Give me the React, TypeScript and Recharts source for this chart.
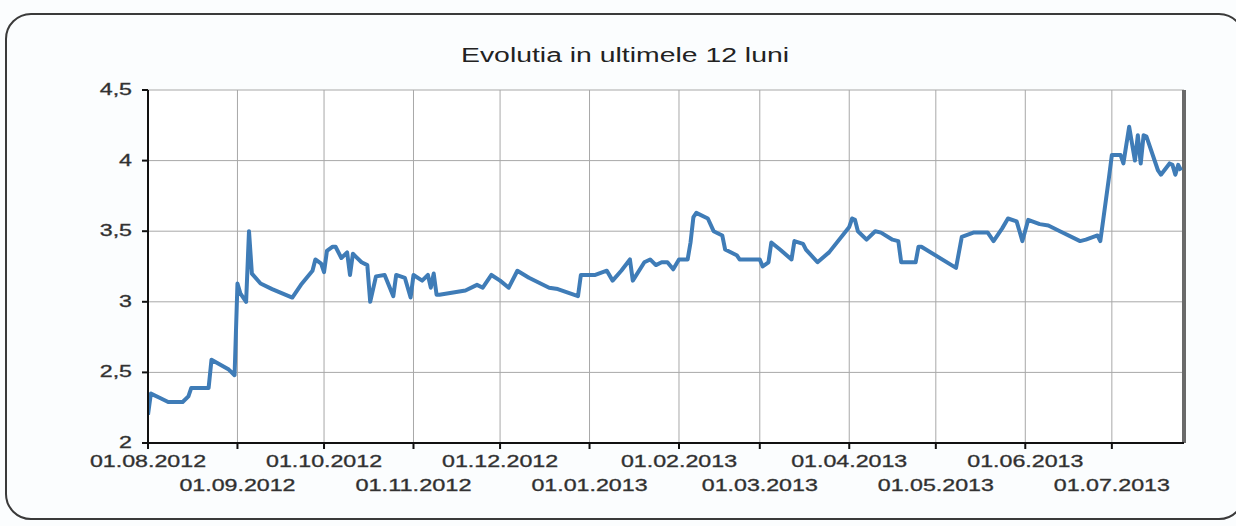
import React from "react";
import { LineChart, Line, XAxis, YAxis, CartesianGrid, ReferenceLine } from "recharts";

const title = "Evolutia in ultimele 12 luni";

const dates: string[] = [
  "01.08.2012","02.08.2012","05.08.2012","08.08.2012","13.08.2012","15.08.2012","16.08.2012","22.08.2012","23.08.2012","29.08.2012","31.08.2012",
  "01.09.2012","02.09.2012","04.09.2012","05.09.2012","06.09.2012","09.09.2012","13.09.2012","20.09.2012","23.09.2012","27.09.2012","28.09.2012","30.09.2012",
  "01.10.2012","02.10.2012","04.10.2012","05.10.2012","07.10.2012","09.10.2012","10.10.2012","11.10.2012","12.10.2012","14.10.2012","16.10.2012","17.10.2012","19.10.2012","22.10.2012","25.10.2012","26.10.2012","29.10.2012","31.10.2012",
  "01.11.2012","04.11.2012","06.11.2012","07.11.2012","08.11.2012","09.11.2012","10.11.2012","19.11.2012","23.11.2012","25.11.2012","28.11.2012",
  "01.12.2012","04.12.2012","07.12.2012","11.12.2012","18.12.2012","21.12.2012","28.12.2012","29.12.2012",
  "03.01.2013","07.01.2013","09.01.2013","12.01.2013","15.01.2013","16.01.2013","20.01.2013","22.01.2013","24.01.2013","26.01.2013","28.01.2013","30.01.2013",
  "01.02.2013","04.02.2013","05.02.2013","06.02.2013","07.02.2013","11.02.2013","13.02.2013","16.02.2013","17.02.2013","21.02.2013","22.02.2013",
  "01.03.2013","02.03.2013","04.03.2013","05.03.2013","08.03.2013","12.03.2013","13.03.2013","16.03.2013","17.03.2013","21.03.2013","25.03.2013",
  "01.04.2013","02.04.2013","03.04.2013","04.04.2013","07.04.2013","10.04.2013","12.04.2013","16.04.2013","18.04.2013","19.04.2013","24.04.2013","25.04.2013","26.04.2013",
  "08.05.2013","10.05.2013","14.05.2013","19.05.2013","21.05.2013","24.05.2013","26.05.2013","29.05.2013","31.05.2013",
  "02.06.2013","06.06.2013","09.06.2013","13.06.2013","20.06.2013","22.06.2013","26.06.2013","27.06.2013","28.06.2013","30.06.2013",
  "01.07.2013","04.07.2013","05.07.2013","07.07.2013","09.07.2013","10.07.2013","11.07.2013","12.07.2013","13.07.2013","17.07.2013","18.07.2013","21.07.2013","22.07.2013","23.07.2013","24.07.2013","25.07.2013"
];

const values: number[] = [
  2.20,2.35,2.32,2.29,2.29,2.33,2.39,2.39,2.59,2.52,2.48,
  3.13,3.06,3.00,3.50,3.20,3.13,3.09,3.03,3.12,3.22,3.30,3.27,
  3.21,3.36,3.39,3.39,3.31,3.35,3.19,3.34,3.32,3.28,3.26,3.00,3.18,3.19,3.04,3.19,3.17,3.03,
  3.19,3.15,3.19,3.10,3.20,3.05,3.05,3.08,3.12,3.10,3.19,
  3.15,3.10,3.22,3.17,3.10,3.09,3.04,3.19,
  3.19,3.22,3.15,3.22,3.30,3.15,3.28,3.30,3.26,3.28,3.28,3.23,
  3.30,3.30,3.42,3.60,3.63,3.59,3.50,3.47,3.37,3.33,3.30,
  3.30,3.25,3.28,3.42,3.37,3.30,3.43,3.41,3.37,3.28,3.35,
  3.53,3.59,3.58,3.50,3.44,3.50,3.49,3.44,3.43,3.28,3.28,3.39,3.39,
  3.24,3.46,3.49,3.49,3.43,3.52,3.59,3.57,3.43,
  3.58,3.55,3.54,3.50,3.43,3.44,3.47,3.43,3.58,3.88,
  4.04,4.04,3.98,4.24,4.00,4.18,3.98,4.18,4.17,3.93,3.90,3.98,3.97,3.90,3.97,3.93
];

const xTickLabels: string[] = [
  "01.08.2012","01.09.2012","01.10.2012","01.11.2012","01.12.2012","01.01.2013",
  "01.02.2013","01.03.2013","01.04.2013","01.05.2013","01.06.2013","01.07.2013"
];
const xDomainLabels: string[] = ["01.08.2012", "26.07.2013"];
const yTicks: number[] = [2, 2.5, 3, 3.5, 4, 4.5];

const parse = (s: string) => {
  const [d, m, y] = s.split(".").map(Number);
  return Date.UTC(y, m - 1, d);
};
const fmt = (t: number) => {
  const d = new Date(t);
  const p = (n: number) => String(n).padStart(2, "0");
  return `${p(d.getUTCDate())}.${p(d.getUTCMonth() + 1)}.${d.getUTCFullYear()}`;
};

const data = dates.map((d, i) => ({ t: parse(d), v: values[i] }));
const xTicks = xTickLabels.map(parse);
const xDomain = xDomainLabels.map(parse);

const STRETCH = 1.45;
const textWidth = (s: string, fs: number) => {
  let w = 0;
  for (const c of s) w += c === "." || c === "," ? 0.278 : 0.556;
  return w * fs * STRETCH;
};

const XTick = (props: any) => {
  const { x, y, payload, index } = props;
  const label = fmt(payload.value);
  const fs = 16;
  const dy = index % 2 === 0 ? 16 : 40;
  return (
    <text
      x={x}
      y={y + dy}
      textAnchor="middle"
      fontSize={fs}
      fill="#2c2c2c"
      stroke="#444"
      strokeWidth={0.35}
      fontFamily="Liberation Sans, Arial, sans-serif"
      textLength={textWidth(label, fs)}
      lengthAdjust="spacingAndGlyphs"
    >
      {label}
    </text>
  );
};

const YTick = (props: any) => {
  const { x, y, payload } = props;
  const label = String(payload.value).replace(".", ",");
  const fs = 16;
  return (
    <text
      x={x}
      y={y + 5}
      textAnchor="end"
      fontSize={fs}
      fill="#2c2c2c"
      stroke="#444"
      strokeWidth={0.35}
      fontFamily="Liberation Sans, Arial, sans-serif"
      textLength={textWidth(label, fs)}
      lengthAdjust="spacingAndGlyphs"
    >
      {label}
    </text>
  );
};

export default function App() {
  return (
    <div style={{ position: "absolute", left: 0, top: 0, width: 1236, height: 526, background: "#fbfdfe" }}>
      <div
        style={{
          position: "absolute",
          left: 5,
          top: 13,
          width: 1240,
          height: 507,
          border: "2px solid #3a3a3a",
          borderRadius: 26,
          boxSizing: "border-box",
        }}
      />
      <svg style={{ position: "absolute", left: 0, top: 0 }} width={1236} height={80}>
        <text
          x={625}
          y={62}
          textAnchor="middle"
          fontSize={20}
          fill="#222"
          fontFamily="Liberation Sans, Arial, sans-serif"
          textLength={328}
          lengthAdjust="spacingAndGlyphs"
        >
          {title}
        </text>
      </svg>
      <div style={{ position: "absolute", left: 0, top: 0 }}>
        <LineChart width={1236} height={526} data={data} margin={{ top: 90, right: 52, bottom: 0, left: 0 }}>
          <CartesianGrid stroke="#a8a8a8" strokeWidth={1} fill="#ffffff" />
          <XAxis
            dataKey="t"
            type="number"
            scale="time"
            domain={xDomain}
            ticks={xTicks}
            height={83}
            tick={<XTick />}
            tickSize={6}
            axisLine={{ stroke: "#111", strokeWidth: 2 }}
            tickLine={{ stroke: "#111", strokeWidth: 2 }}
            interval={0}
            allowDataOverflow
          />
          <YAxis
            type="number"
            domain={[2, 4.5]}
            ticks={yTicks}
            width={148}
            tick={<YTick />}
            tickSize={6}
            tickMargin={10}
            axisLine={{ stroke: "#111", strokeWidth: 2 }}
            tickLine={{ stroke: "#111", strokeWidth: 2 }}
            interval={0}
          />
          <ReferenceLine x={xDomain[1]} stroke="#6a6a6a" strokeWidth={4} />
          <Line
            type="linear"
            dataKey="v"
            stroke="#3f7cb7"
            strokeWidth={4}
            strokeLinejoin="round"
            dot={false}
            isAnimationActive={false}
          />
        </LineChart>
      </div>
    </div>
  );
}
